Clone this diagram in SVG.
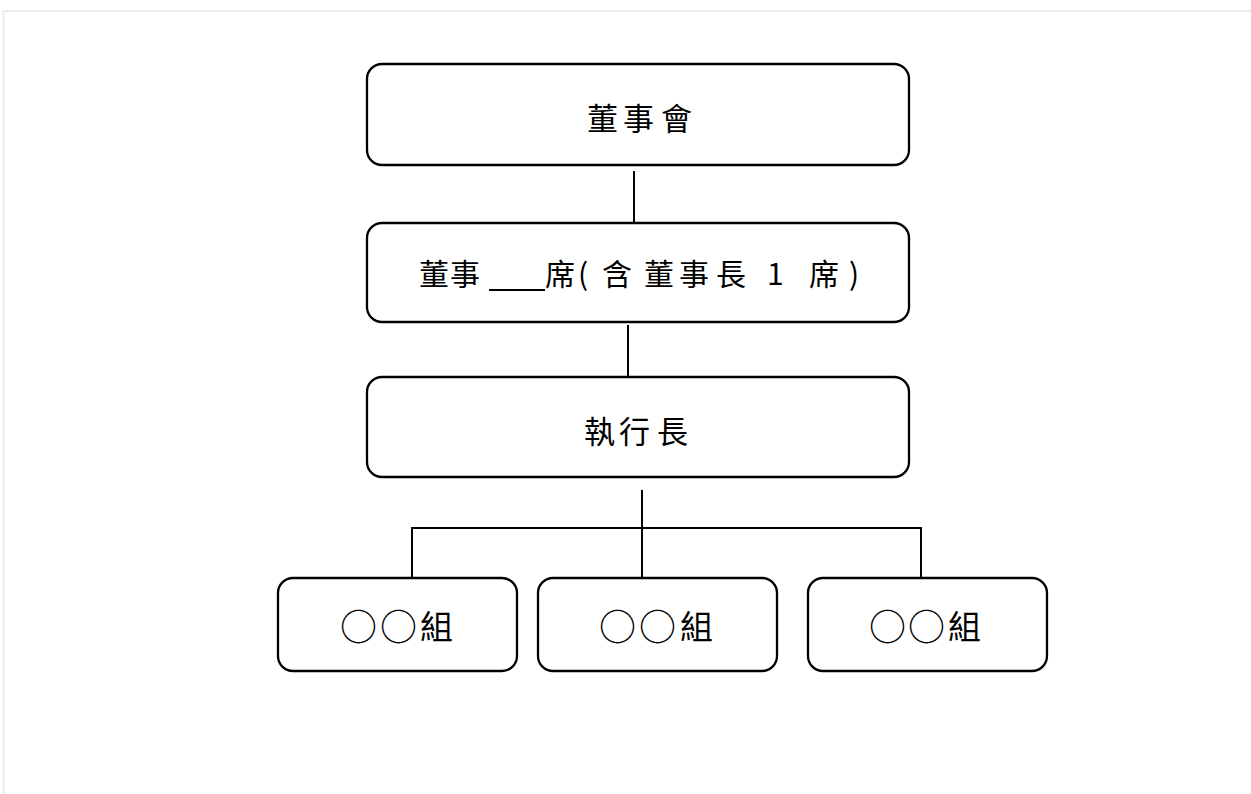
<svg xmlns="http://www.w3.org/2000/svg" width="1251" height="794" viewBox="0 0 1251 794">
<style>
.box{fill:#fff;stroke:#000;stroke-width:2.3}
.ln{stroke:#000;stroke-width:2;fill:none}
.t{font-family:"Noto Sans CJK TC","Noto Sans CJK SC",sans-serif;font-size:31px;fill:#000;dominant-baseline:central}
.m{font-family:"Noto Sans CJK TC","Noto Sans CJK SC",sans-serif;font-size:30px;fill:#000;dominant-baseline:central}
.s{font-family:"Noto Sans CJK TC","Noto Sans CJK SC",sans-serif;font-size:33px;fill:#000;dominant-baseline:central}
.c{font-size:37px}
</style>
<rect width="1251" height="794" fill="#fff"/>
<path d="M3.5,794 V11 H1251" fill="none" stroke="#ececec" stroke-width="2"/>
<g id="connectors">
<line class="ln" x1="634" y1="171" x2="634" y2="223"/>
<line class="ln" x1="628" y1="325" x2="628" y2="377"/>
<line class="ln" x1="642" y1="490" x2="642" y2="577"/>
<line class="ln" x1="411" y1="528" x2="922" y2="528"/>
<line class="ln" x1="412" y1="527" x2="412" y2="583"/>
<line class="ln" x1="921" y1="527" x2="921" y2="583"/>
</g>
<g id="board">
<rect class="box" x="367" y="64" width="542" height="101" rx="15"/>
<text class="t" y="116" x="587 623 661">董事會</text>
</g>
<g id="directors">
<rect class="box" x="367" y="223" width="542" height="99" rx="15"/>
<text class="m" y="272" x="419 450">董事</text>
<line x1="489" y1="290" x2="545" y2="290" stroke="#000" stroke-width="2"/>
<text class="m" y="272" x="545 578 602">席(含</text>
<text class="m" y="272" x="644 679 716">董事長</text>
<text class="m" y="272" x="767">1</text>
<text class="m" y="272" x="809 849">席)</text>
</g>
<g id="ceo">
<rect class="box" x="367" y="377" width="542" height="100" rx="15"/>
<text class="t" y="429" x="584 619 657">執行長</text>
</g>
<g id="group1">
<rect class="box" x="278" y="578" width="239" height="93" rx="15"/>
<text class="s" y="625"><tspan class="c" x="340 380">○○</tspan><tspan x="420">組</tspan></text>
</g>
<g id="group2">
<rect class="box" x="538" y="578" width="239" height="93" rx="15"/>
<text class="s" y="625"><tspan class="c" x="599 639">○○</tspan><tspan x="680">組</tspan></text>
</g>
<g id="group3">
<rect class="box" x="808" y="578" width="239" height="93" rx="15"/>
<text class="s" y="625"><tspan class="c" x="869 908">○○</tspan><tspan x="948">組</tspan></text>
</g>
</svg>
